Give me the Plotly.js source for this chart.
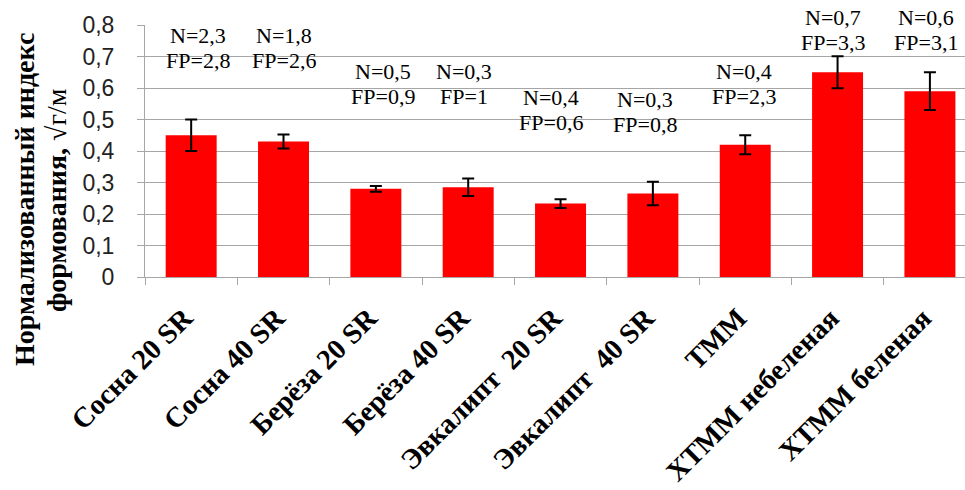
<!DOCTYPE html>
<html>
<head>
<meta charset="utf-8">
<script src="https://cdn.plot.ly/plotly-3.0.1.min.js"></script>
<style>
  html, body { margin: 0; padding: 0; background: #fff; }
  #chart { width: 965px; height: 490px; }
</style>
</head>
<body>
<div id="chart"></div>
<script>
// Pulp samples and their normalised formation index
const categories = [
  'Сосна 20 SR', 'Сосна 40 SR', 'Берёза 20 SR', 'Берёза 40 SR',
  'Эвкалипт\u00a0 20 SR', 'Эвкалипт\u00a0 40 SR', 'ТММ', 'ХТММ небеленая', 'ХТММ беленая'
];
const indexValues = [0.45, 0.43, 0.28, 0.285, 0.233, 0.265, 0.42, 0.65, 0.59];
const indexErrors = [0.05, 0.022, 0.009, 0.028, 0.014, 0.037, 0.03, 0.051, 0.06];
const nValues  = ['2,3', '1,8', '0,5', '0,3', '0,4', '0,3', '0,4', '0,7', '0,6'];
const fpValues = ['2,8', '2,6', '0,9', '1', '0,6', '0,8', '2,3', '3,3', '3,1'];

// Placement of the N / FP notes above each bar (layout only, in y-axis units)
const yMax = 0.8;
const noteY     = [0.768, 0.768, 0.651, 0.651, 0.571, 0.562, 0.651, 0.825, 0.825];
const noteShift = [7, 0, 7, -4, -10, -8, -1, -5, -4];

const serif = 'Liberation Serif';
const gridGray = '#a6a6a6';

const trace = {
  type: 'bar',
  x: categories,
  y: indexValues,
  marker: { color: '#ff0000', line: { width: 0 } },
  error_y: { type: 'data', array: indexErrors, visible: true, color: '#000', thickness: 2, width: 6 },
  hoverinfo: 'none'
};

const annotations = [];
categories.forEach((c, i) => {
  // paper y so that notes above the top of the axis are still drawn
  const py = noteY[i] / yMax;
  annotations.push({
    x: c, y: py, xref: 'x', yref: 'paper', xshift: noteShift[i],
    text: 'N=' + nValues[i], showarrow: false, xanchor: 'center', yanchor: 'middle',
    font: { family: serif, size: 22, color: '#000' }
  });
  annotations.push({
    x: c, y: py, xref: 'x', yref: 'paper', xshift: noteShift[i], yshift: -25,
    text: 'FP=' + fpValues[i], showarrow: false, xanchor: 'center', yanchor: 'middle',
    font: { family: serif, size: 22, color: '#000' }
  });
});

// Two-line vertical axis title
annotations.push({
  x: -0.1463, y: 0.3056, xref: 'paper', yref: 'paper', textangle: -90,
  text: '<b>Нормализованный индекс</b>', showarrow: false,
  xanchor: 'center', yanchor: 'middle',
  font: { family: serif, size: 28, color: '#000' }
});
annotations.push({
  x: -0.1073, y: 0.3056, xref: 'paper', yref: 'paper', textangle: -90,
  text: '<b>формования, </b>√г/м', showarrow: false,
  xanchor: 'center', yanchor: 'middle',
  font: { family: serif, size: 28, color: '#000' }
});

const layout = {
  width: 965, height: 490,
  margin: { l: 145, r: 0, t: 25, b: 213, pad: 0 },
  paper_bgcolor: '#fff', plot_bgcolor: '#fff',
  separators: ', ',
  showlegend: false,
  bargap: 0.448,
  xaxis: {
    type: 'category', range: [-0.5, 8.38],
    showline: true, linecolor: gridGray, linewidth: 1,
    ticks: 'outside', tickson: 'boundaries', ticklen: 7, tickcolor: gridGray,
    tickangle: -45, ticklabelstandoff: 12, ticklabelshift: -7,
    tickfont: { family: serif, size: 28.5, color: '#000', weight: 'bold' },
    showgrid: false, zeroline: false
  },
  yaxis: {
    range: [0, yMax], tick0: 0, dtick: 0.1,
    showline: true, linecolor: gridGray, linewidth: 1,
    ticks: 'outside', ticklen: 7, tickcolor: gridGray,
    showgrid: true, gridcolor: gridGray, gridwidth: 1, zeroline: false,
    ticklabelstandoff: 18,
    tickfont: { family: 'Liberation Sans', size: 23, color: '#222' }
  },
  annotations: annotations
};

Plotly.newPlot('chart', [trace], layout, { staticPlot: true, displayModeBar: false });
</script>
</body>
</html>
